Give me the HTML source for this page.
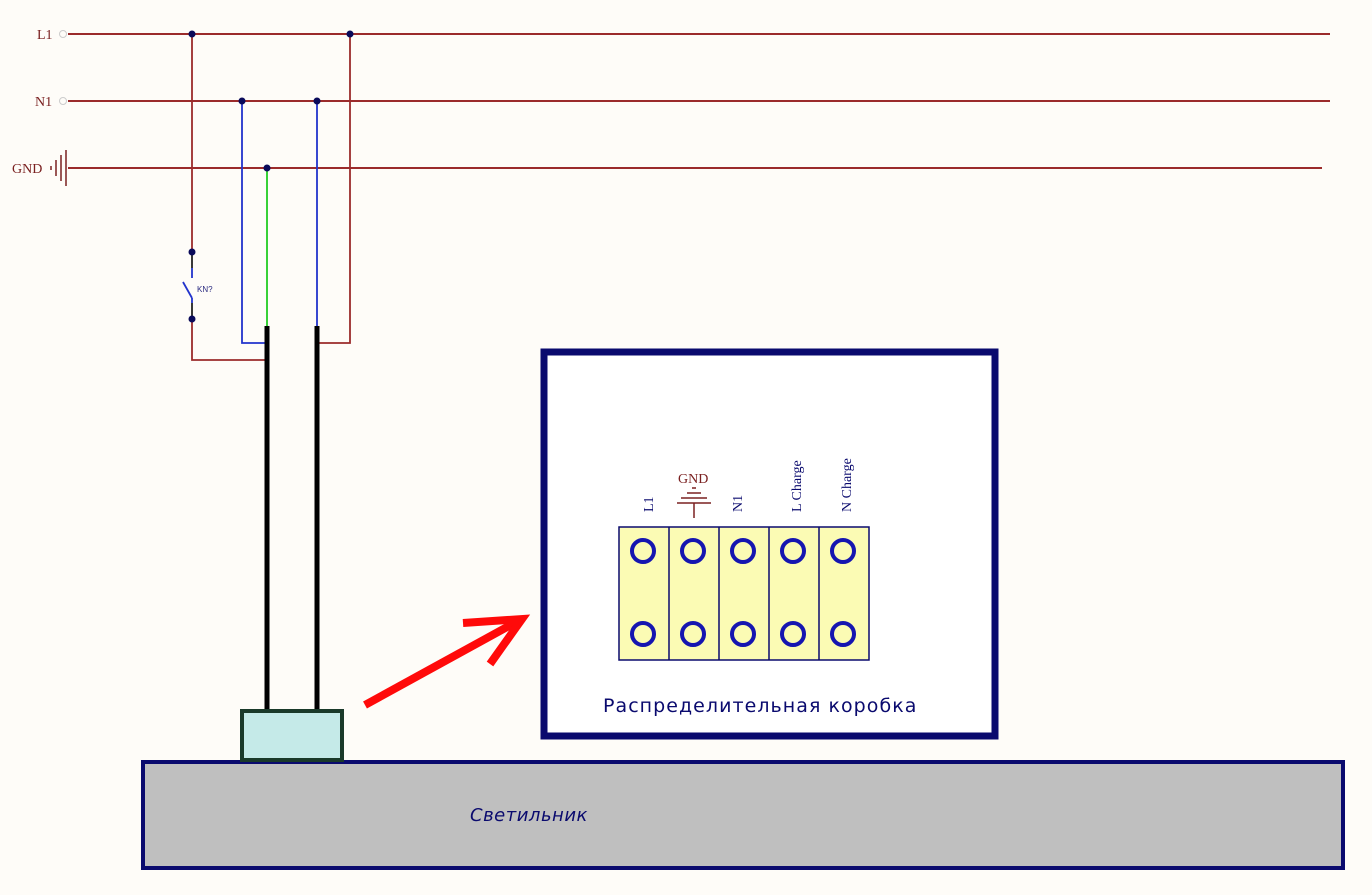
<!DOCTYPE html>
<html><head><meta charset="utf-8"><style>
html,body{margin:0;padding:0;background:#fefcf8;}
svg{display:block;}
</style></head><body>
<svg width="1372" height="895" viewBox="0 0 1372 895" xmlns="http://www.w3.org/2000/svg" font-family="'Liberation Serif', serif">
<rect width="1372" height="895" fill="#fefcf8"/>
<g stroke="#9b2b2b" stroke-width="2" fill="none">
<line x1="68" y1="34" x2="1330" y2="34"/>
<line x1="68" y1="101" x2="1330" y2="101"/>
<line x1="68" y1="168" x2="1322" y2="168"/>
</g>
<text x="37" y="39" font-size="14" fill="#7a2020">L1</text>
<circle cx="63" cy="34" r="3.5" fill="none" stroke="#ccc" stroke-width="1"/>
<text x="35" y="106" font-size="14" fill="#7a2020">N1</text>
<circle cx="63" cy="101" r="3.5" fill="none" stroke="#ccc" stroke-width="1"/>
<text x="12" y="173" font-size="14" fill="#7a2020">GND</text>
<g stroke="#7a2020" stroke-width="1.5">
<line x1="51" y1="166" x2="51" y2="170"/>
<line x1="56" y1="160" x2="56" y2="176"/>
<line x1="61" y1="155" x2="61" y2="181"/>
<line x1="66" y1="150" x2="66" y2="186"/>
</g>
<g fill="none" stroke-width="1.8">
<polyline points="192,34 192,252" stroke="#9b2b2b"/>
<polyline points="192,319 192,360 267,360" stroke="#9b2b2b"/>
<polyline points="350,34 350,343 317,343" stroke="#9b2b2b"/>
<polyline points="242,101 242,343 267,343" stroke="#2233cc"/>
<polyline points="317,101 317,326" stroke="#2233cc"/>
<polyline points="267,168 267,326" stroke="#22cc22"/>
</g>
<g stroke-width="1.8" fill="none">
<line x1="192" y1="252" x2="192" y2="268" stroke="#222"/>
<line x1="192" y1="268" x2="192" y2="278" stroke="#2233cc"/>
<line x1="183" y1="282" x2="192" y2="298" stroke="#2233cc"/>
<line x1="192" y1="298" x2="192" y2="303" stroke="#2233cc"/>
<line x1="192" y1="303" x2="192" y2="319" stroke="#222"/>
</g>
<text x="197" y="292" font-size="8" font-family="'Liberation Sans',sans-serif" fill="#2a2a80">KN?</text>
<g fill="#0a0a5a">
<circle cx="192" cy="34" r="3.5"/><circle cx="350" cy="34" r="3.5"/>
<circle cx="242" cy="101" r="3.5"/><circle cx="317" cy="101" r="3.5"/>
<circle cx="267" cy="168" r="3.5"/>
<circle cx="192" cy="252" r="3.5"/><circle cx="192" cy="319" r="3.5"/>
</g>
<line x1="267" y1="326" x2="267" y2="712" stroke="#000" stroke-width="5"/>
<line x1="317" y1="326" x2="317" y2="712" stroke="#000" stroke-width="5"/>
<rect x="143" y="762" width="1200" height="106" fill="#bfbfbf" stroke="#0a0a6e" stroke-width="4"/>
<text x="470" y="821" font-size="18" font-family="'DejaVu Sans',sans-serif" fill="#0a0a6e" font-style="italic" letter-spacing="0.5">Светильник</text>
<rect x="242" y="711" width="100" height="49" fill="#c5eae8" stroke="#1a3a2a" stroke-width="4"/>
<rect x="544" y="352" width="451" height="384" fill="#fff" stroke="#0a0a6e" stroke-width="7"/>
<text x="603" y="712" font-size="19" font-family="'DejaVu Sans',sans-serif" fill="#0a0a6e" letter-spacing="0.6" textLength="314">Распределительная коробка</text>
<rect x="619" y="527" width="250" height="133" fill="#fbfbb4" stroke="#0a0a6e" stroke-width="1.5"/>
<g stroke="#0a0a6e" stroke-width="1.5">
<line x1="669" y1="527" x2="669" y2="660"/><line x1="719" y1="527" x2="719" y2="660"/>
<line x1="769" y1="527" x2="769" y2="660"/><line x1="819" y1="527" x2="819" y2="660"/>
</g>
<g fill="none" stroke="#1515b0" stroke-width="4">
<circle cx="643" cy="551" r="11"/><circle cx="693" cy="551" r="11"/><circle cx="743" cy="551" r="11"/><circle cx="793" cy="551" r="11"/><circle cx="843" cy="551" r="11"/>
<circle cx="643" cy="634" r="11"/><circle cx="693" cy="634" r="11"/><circle cx="743" cy="634" r="11"/><circle cx="793" cy="634" r="11"/><circle cx="843" cy="634" r="11"/>
</g>
<g font-size="14" fill="#0a0a6e">
<text transform="translate(653,512) rotate(-90)">L1</text>
<text transform="translate(742,512) rotate(-90)">N1</text>
<text transform="translate(801,512) rotate(-90)">L Charge</text>
<text transform="translate(851,512) rotate(-90)">N Charge</text>
</g>
<text x="678" y="483" font-size="14" fill="#7a2020">GND</text>
<g stroke="#7a2020" stroke-width="1.5">
<line x1="692" y1="488" x2="696" y2="488"/>
<line x1="687" y1="493" x2="701" y2="493"/>
<line x1="681" y1="498" x2="707" y2="498"/>
<line x1="677" y1="503" x2="711" y2="503"/>
<line x1="694" y1="503" x2="694" y2="518"/>
</g>
<g stroke="#ff0a0a" stroke-width="8" fill="none" stroke-linejoin="miter">
<line x1="365" y1="705" x2="518" y2="621"/>
<polyline points="463,623 522,619 490,664"/>
</g>
</svg>
</body></html>
